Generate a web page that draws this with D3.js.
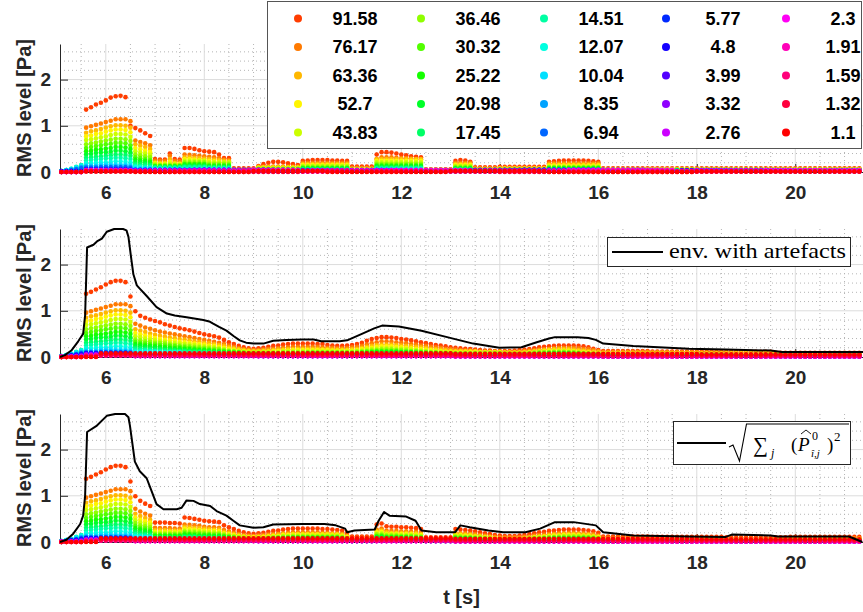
<!DOCTYPE html>
<html><head><meta charset="utf-8">
<script src="https://cdn.jsdelivr.net/npm/d3@7/dist/d3.min.js"></script>
<style>body{margin:0;background:#fff;}svg{display:block;}</style>
</head><body>
<svg id="chart" width="863" height="612"></svg>
<script>
// ---------------- DATA ----------------
// frequency bands (legend order, column-major)
const freqs = [91.58,76.17,63.36,52.7,43.83,36.46,30.32,25.22,20.98,17.45,14.51,12.07,10.04,8.35,6.94,5.77,4.8,3.99,3.32,2.76,2.3,1.91,1.59,1.32,1.1];
// sample grid of the dots: t = T0 + i*DT, i = 0..NT-1
const T0 = 5.1, DT = 0.1, NT = 163;
const xTicks = [6,8,10,12,14,16,18,20];
const yTicks = [0,1,2];
const YMAX = 2.77;
// Series values in hundredths of Pa, as runs: number = one sample, [n, v] = n samples of v

// Panel 1 (dots only)
const panel1 = [
 [[5,1],135,140,146,150,155,161,164,165,162,100,95,90,84,78,28,27,27,40,28,27,52,52,50,47,45,44,43,38,30,30,[5,8],13,17,20,22,22,21,19,17,15,24,25,26,26,26,26,25,25,24,24,[5,12],38,43,43,42,40,38,36,34,33,32,[6,6],24,26,25,22,[5,10],[10,11],22,23,24,25,25,25,25,25,24,23,22,[53,8]],
 [[5,1],96,99,102,105,108,111,114,114,114,110,68,65,62,58,25,24,24,35,24,23,38,37,36,35,34,33,32,30,27,26,[5,6],[9,12],[10,20],[5,9],28,32,32,32,31,30,30,29,28,27,[6,5],[4,20],[5,8],[10,9],[11,19],[53,7]],
 [[5,1],85,88,90,93,96,99,101,101,100,96,60,57,54,50,21,20,20,28,20,19,32,32,31,30,29,28,27,26,24,23,[5,5],[9,10],[10,17],[5,7],[10,28],[6,5],[4,17],[5,7],[10,8],[11,16],[53,6]],
 [[5,1],77,79,82,84,87,90,92,92,91,86,52,49,46,43,19,18,18,22,18,17,28,28,27,26,25,24,23,22,21,20,[5,5],[9,9],[10,15],[5,6],[10,24],[6,4],[4,15],[5,6],[10,7],[11,14],[53,6]],
 [0,1,1,2,4,69,71,73,75,77,80,82,82,81,76,45,42,40,37,17,16,16,18,16,15,[5,24],[5,21],[5,4],[9,8],[10,13],[5,5],[10,21],[6,4],[4,13],[5,5],[10,6],[11,12],[53,5]],
 [1,1,2,3,6,60,62,64,66,68,70,72,72,71,67,38,36,34,32,[6,15],[5,21],[5,18],[5,4],[9,7],[10,11],[5,5],[10,18],[6,4],[4,11],[5,5],[10,5],[11,10],[53,5]],
 [1,2,3,5,8,52,54,56,58,60,61,63,63,62,58,32,30,28,26,[6,13],[5,18],[5,15],[5,3],[9,6],[10,9],[5,4],[10,15],[6,3],[4,9],[5,4],[10,5],[11,9],[53,4]],
 [1,2,4,6,10,45,46,48,49,51,52,54,54,53,50,27,25,24,22,[6,12],[5,16],[5,13],[5,3],[9,5],[10,8],[5,4],[10,13],[6,3],[4,8],[5,4],[10,4],[11,8],[53,4]],
 [1,3,5,8,12,38,39,41,42,43,44,46,46,45,42,22,21,20,18,[6,11],[5,14],[5,11],[5,3],[9,5],[10,7],[5,3],[10,11],[6,3],[4,7],[5,3],[10,4],[11,7],[53,4]],
 [2,4,6,10,14,31,32,33,34,35,36,38,38,37,35,18,17,16,15,[6,10],[5,12],[5,10],[5,3],[9,4],[10,6],[5,3],[10,9],[6,3],[4,6],[5,3],[10,3],[11,6],[53,3]],
 [2,4,7,11,15,25,26,27,28,29,30,31,31,30,28,14,13,12,11,[6,9],[5,10],[5,8],[5,2],[9,4],[10,5],[5,3],[10,8],[6,2],[4,5],[5,3],[10,3],[11,5],[53,3]],
 [2,4,7,10,14,19,19,20,21,21,22,23,23,22,21,11,10,9,9,[6,7],[10,7],[5,2],[9,3],[10,4],[5,2],[10,6],[6,2],[4,4],[5,2],[10,3],[11,4],[53,3]],
 [2,4,6,9,12,[3,14],[6,16],15,[4,8],[6,6],[10,5],[5,2],[9,3],[10,3],[5,2],[10,5],[6,2],[4,3],[5,2],[10,2],[11,3],[53,2]],
 [1,3,5,7,10,[3,11],[6,12],11,[4,6],[6,5],[10,4],[5,2],[9,2],[10,3],[5,2],[10,4],[6,2],[4,3],[5,2],[10,2],[11,3],[53,2]],
 [1,2,4,6,8,[3,9],[6,10],9,[4,5],[6,4],[10,3],[5,2],[9,2],[10,2],[5,2],[10,3],[6,2],[4,2],[5,2],[10,2],[11,2],[53,2]],
 [[5,1],[9,5],4,[4,3],[12,5],[15,2],[20,4],[18,2],[25,5],[20,2],[15,4],[19,2]],
 [[5,2],[9,6],5,[4,4],[10,2],[14,5],[16,2],[20,4],[15,2],[25,5],[20,2],[24,4]],
 [[5,0],[9,4],4,[4,3],[16,4],[12,1],[22,3],[14,1],[18,4],[25,2],[20,4],[17,1]],
 [[5,0],[9,5],4,[4,2],[8,2],[20,5],[15,2],[22,4],[20,1],[18,4],[25,2],[16,3]],
 [[5,0],[9,3],3,[4,2],[14,3],[18,1],[20,4],[16,2],[24,3],[18,1],[20,4],[14,2]],
 [[5,0],[9,4],3,[4,3],[20,2],[10,5],[18,1],[16,4],[20,2],[22,5],[18,1],[20,4]],
 [[5,0],[9,2],2,[4,2],[25,3],[15,1],[20,3],[20,1],[25,3],[20,1],[19,2]],
 [[5,0],[9,3],2,[4,2],[18,1],[22,3],[20,1],[18,3],[22,1],[24,2],[20,1]],
 [[5,0],[9,1],1,[4,1],[30,0],[40,1],[40,0],[34,1]],
 [[5,0],[9,1],1,[4,0],[20,0],[15,2],[25,0],[20,2],[30,0],[34,1]]
];

// Panel 2 (dots + envelope with artefacts)
const panel2 = [
 [0,1,1,2,3,137,141,146,151,157,162,165,165,162,131,99,89,85,81,78,75,71,68,65,62,60,58,55,52,49,47,45,42,37,32,28,24,21,19,18,19,20,22,24,25,27,28,29,29,29,29,29,28,28,26,25,24,24,25,26,28,31,35,39,41,43,43,42,41,39,38,36,34,32,30,28,26,25,23,21,20,19,18,17,16,15,14,14,13,13,13,13,14,15,16,17,19,21,22,23,24,25,25,25,25,24,23,21,18,15,[10,13],[10,12],[5,12],[10,11],[18,9]],
 [0,0,1,1,2,96,99,102,105,108,111,114,114,114,110,72,68,64,61,58,55,53,51,49,47,45,43,41,39,37,35,33,31,28,25,22,19,17,16,15,15,16,17,18,19,20,21,22,22,22,22,22,22,21,20,20,19,19,20,21,22,24,27,30,32,34,34,33,32,31,30,28,27,25,24,22,21,20,18,17,16,15,14,14,13,12,12,11,11,11,11,11,11,12,13,14,15,16,17,18,19,20,20,20,20,19,18,17,15,13,[10,11],[10,10],[15,10],[18,8]],
 [0,0,1,1,2,85,88,90,93,96,99,101,101,100,96,60,57,54,51,48,46,44,42,41,39,38,36,34,33,31,30,28,26,24,21,19,17,15,14,13,13,14,14,15,16,16,17,17,18,18,18,18,18,17,17,16,16,16,16,17,18,20,22,24,26,27,27,27,26,25,24,23,22,21,20,18,17,16,15,14,[5,13],[5,11],[4,10],11,12,13,14,15,16,17,17,17,17,16,15,14,13,12,11,[20,9],[33,8]],
 [0,0,1,2,3,77,79,82,84,87,90,92,92,91,86,52,49,46,44,41,39,37,36,35,33,32,31,29,28,27,25,24,22,20,18,16,14,13,12,11,11,12,12,13,13,14,14,15,15,15,[5,15],[5,14],15,17,19,20,22,23,23,23,22,21,20,19,18,17,16,15,14,13,12,12,[5,11],[5,10],[5,9],10,11,12,13,14,14,14,14,14,13,12,11,10,9,8,[20,8],[33,7]],
 [0,1,1,2,4,69,71,73,75,77,80,82,82,81,76,45,43,40,38,36,34,33,31,30,29,28,27,26,24,23,22,21,19,17,15,14,12,11,10,10,[5,10],[5,12],[10,12],13,14,16,17,18,19,19,19,18,18,17,16,15,14,13,12,12,11,10,10,[10,9],[5,8],9,10,11,12,12,12,12,12,12,11,10,9,8,8,7,[20,7],[33,6]],
 [1,1,2,3,6,60,62,64,66,68,70,72,72,71,67,38,36,34,33,31,30,29,27,26,25,24,23,22,21,20,19,18,17,15,13,12,11,10,9,9,[5,9],[5,10],[10,10],11,12,13,14,15,16,16,16,15,15,14,13,13,12,11,10,10,9,9,8,[10,8],[5,7],8,9,10,10,10,11,11,11,10,10,9,8,7,7,7,[20,6],[33,5]],
 [1,2,3,5,8,52,54,56,58,60,61,63,63,62,58,33,31,29,28,27,26,25,24,23,22,21,20,19,18,17,16,15,14,13,12,11,10,9,8,8,[10,8],[10,9],9,10,11,12,13,13,13,13,13,12,12,11,11,10,10,9,9,8,8,7,[10,7],[5,6],7,7,8,8,9,9,9,9,9,8,8,7,7,6,6,[20,5],[33,5]],
 [1,2,4,6,10,45,46,48,49,51,52,54,54,53,50,28,27,25,24,23,22,21,20,19,19,18,17,16,15,15,14,13,12,11,10,9,9,8,7,7,[10,7],[10,8],8,9,9,10,11,11,11,11,11,10,10,10,9,9,8,8,8,7,7,7,[10,6],[5,6],6,6,7,7,8,8,8,8,8,7,7,6,6,6,6,[20,5],[33,4]],
 [1,3,5,8,12,38,39,41,42,43,44,46,46,45,42,24,23,22,21,20,19,18,17,16,16,15,14,14,13,12,12,11,10,9,9,8,7,7,6,6,[10,6],[10,7],7,7,8,8,9,9,9,9,9,9,8,8,8,7,7,7,6,6,6,6,[10,5],[5,5],5,6,6,6,7,7,7,7,7,6,6,6,5,5,5,[20,4],[33,4]],
 [2,4,6,10,14,31,32,33,34,35,36,38,38,37,35,20,19,18,17,16,16,15,14,14,13,13,12,11,11,10,10,9,9,8,7,7,6,6,5,5,[10,5],[10,6],6,6,7,7,7,8,8,8,8,7,7,7,7,6,6,6,6,5,5,5,[10,5],[20,5],[20,4],[33,3]],
 [2,4,7,11,15,25,26,27,28,29,30,31,31,30,28,16,15,15,14,13,13,12,12,11,11,10,10,9,9,9,8,8,7,7,6,6,5,5,5,4,[10,4],[10,5],[5,5],[10,6],[5,5],[10,4],[20,4],[20,3],[33,3]],
 [2,4,7,10,14,19,19,20,21,21,22,23,23,22,21,[5,12],[5,10],[5,8],[5,7],[5,5],[10,4],[10,4],[20,5],[10,4],[20,4],[20,3],[33,3]],
 [2,4,6,9,12,[3,14],[6,16],15,[5,9],[5,8],[5,6],[5,5],[5,4],[20,4],[20,4],[10,3],[20,3],[20,3],[33,2]],
 [1,3,5,7,10,[3,11],[6,12],11,[10,7],[10,5],[5,4],[20,3],[20,4],[10,3],[20,3],[20,2],[33,2]],
 [1,2,4,6,8,[3,9],[6,10],9,[10,6],[15,4],[20,3],[20,3],[10,3],[20,3],[20,2],[33,2]],
 [1,2,3,5,7,[9,9],8,[10,5],[15,4],[20,3],[20,3],[10,2],[20,2],[20,2],[33,2]],
 [1,2,3,4,5,[9,8],7,[10,5],[15,3],[20,3],[20,4],[10,2],[20,2],[20,2],[33,1]],
 [0,1,2,3,4,[9,7],6,[25,3],[20,2],[20,3],[10,2],[20,2],[20,1],[33,1]],
 [0,1,1,2,3,[9,6],5,[25,3],[20,2],[20,2],[10,2],[20,2],[20,1],[33,1]],
 [[5,1],[9,5],4,[25,2],[20,2],[20,2],[10,1],[20,1],[20,1],[33,1]],
 [[5,1],[9,4],3,[25,2],[40,2],[10,1],[20,1],[20,1],[33,1]],
 [[5,0],[9,3],3,[25,2],[40,2],[10,2],[20,2],[20,1],[33,1]],
 [[5,0],[9,3],3,[25,3],[40,3],[10,2],[20,2],[20,2],[33,2]],
 [[5,0],[3,1],[6,5],5,[25,5],[40,5],[10,4],[20,4],[20,4],[33,3]],
 [[5,0],[3,0],[6,8],8,[25,8],[20,8],[20,8],[10,7],[20,7],[20,7],[33,6]]
];

// Panel 3 (dots + reconstructed envelope); lowest bands as read are the same as panel 2
const panel3Upper = [
 [[5,1],137,141,146,151,157,162,165,165,162,131,99,89,83,78,42,42,42,41,41,40,53,52,50,48,46,45,44,43,36,32,28,24,21,19,18,19,20,22,24,25,27,28,29,29,29,29,29,29,28,28,27,26,25,20,[5,12],38,40,34,33,33,32,32,31,30,28,[6,10],28,27,26,25,23,21,19,17,15,14,13,13,13,14,15,17,19,21,22,24,25,26,27,27,27,27,26,25,23,20,[10,12],[15,11],[13,10],[15,11]],
 [[5,1],96,99,102,105,108,111,114,114,114,110,72,66,61,57,31,30,30,30,29,29,38,37,36,35,33,32,32,31,26,23,20,17,15,14,13,14,15,16,17,18,19,20,21,21,21,21,21,21,20,20,19,19,18,14,[5,9],27,29,25,24,24,23,23,22,22,20,[6,7],20,19,19,18,17,15,14,12,11,10,10,10,10,10,11,12,14,15,16,17,18,19,19,20,20,19,19,18,17,14,[10,9],[15,8],[13,7],[15,8]],
 [[5,1],85,88,90,93,96,99,101,101,100,96,61,56,52,48,26,26,26,25,25,25,33,32,31,30,29,28,27,27,22,20,17,15,13,12,11,12,12,14,15,16,17,17,18,18,18,18,18,17,17,17,16,16,16,12,[5,7],24,25,21,20,20,20,20,19,19,17,[6,6],17,17,16,16,14,13,12,11,9,[5,8],9,9,11,12,13,15,16,16,17,17,17,17,16,16,14,12,[10,7],[15,7],[13,6],[15,7]],
 [0,0,1,2,3,77,79,82,84,87,90,92,92,91,86,53,48,45,42,[6,22],29,28,27,26,25,24,24,23,19,17,15,13,11,10,10,10,11,12,13,13,15,15,16,16,[8,16],14,11,[5,6],21,22,18,18,18,17,17,17,16,15,[6,5],15,15,14,14,12,11,10,9,8,[5,7],8,9,10,11,12,13,14,14,15,15,15,15,14,14,12,11,[25,6],[13,5],[15,6]],
 [0,1,1,2,4,69,71,73,75,77,80,82,82,81,76,47,42,39,37,[6,20],25,24,24,23,22,21,21,20,17,15,13,11,10,9,8,9,9,10,11,12,13,13,14,14,[8,14],12,9,[5,6],18,19,16,16,16,15,15,15,14,13,[6,5],13,13,12,12,11,10,9,8,7,[5,6],7,8,9,10,10,11,12,12,13,13,13,13,12,12,11,9,[25,5],[13,5],[15,5]],
 [1,1,2,3,6,60,62,64,66,68,70,72,72,71,67,41,36,34,32,[6,17],22,21,21,20,19,18,18,18,15,13,11,10,9,8,7,8,8,9,10,10,11,11,12,12,[8,12],10,8,[5,5],16,16,14,14,14,13,13,13,12,11,[6,4],11,11,10,10,9,9,8,7,6,[5,5],6,7,8,8,9,10,10,11,11,11,11,11,11,10,9,8,[25,5],[13,4],[15,5]],
 [1,2,3,5,8,52,54,56,58,60,61,63,63,62,58,35,31,29,27,[6,15],19,18,18,17,16,16,15,15,13,11,10,8,7,7,6,7,7,8,8,9,9,10,10,10,[8,10],9,7,[5,4],13,14,12,12,12,11,11,11,10,10,[6,4],10,9,9,9,8,7,7,6,5,[5,5],5,6,7,7,8,8,9,9,9,9,9,9,9,9,8,7,[25,4],[13,4],[15,4]],
 [1,2,4,6,10,45,46,48,49,51,52,54,54,53,50,30,27,25,23,[6,13],16,16,15,14,14,14,13,13,11,10,8,7,6,6,5,6,6,7,7,8,8,8,9,9,[8,9],8,6,[5,4],11,12,10,10,10,10,10,9,9,8,[6,3],8,8,8,8,7,6,6,5,5,[5,4],5,5,6,6,7,7,8,8,8,8,8,8,8,7,7,6,[25,4],[13,3],[15,4]],
 [1,3,5,8,12,38,39,41,42,43,44,46,46,45,42,25,22,21,20,[6,11],13,13,13,12,12,11,11,11,9,8,7,6,5,5,5,5,5,6,6,6,7,7,7,7,[8,7],6,5,[5,3],10,10,9,8,8,8,8,8,8,7,[6,3],7,7,7,6,6,5,5,5,4,[5,4],4,4,5,5,6,6,6,7,7,7,7,7,7,6,6,5,[25,3],[13,3],[15,3]],
 [2,4,6,10,14,31,32,33,34,35,36,38,38,37,35,21,19,17,16,[6,9],11,11,11,10,10,9,9,9,8,7,6,5,5,4,4,4,4,5,5,5,6,6,6,6,[8,6],5,4,[5,3],8,8,7,7,7,7,7,7,6,6,[6,3],[4,6],5,4,4,4,3,[5,3],3,4,4,4,5,5,5,5,6,6,6,6,5,5,5,4,[25,3],[13,2],[15,3]],
 [2,4,7,11,15,25,26,27,28,29,30,31,31,30,28,17,15,14,13,[6,7],9,9,9,8,8,8,7,7,6,5,5,4,4,4,3,[9,4],[8,5],4,3,[5,2],[3,6],[7,5],[6,2],[4,5],[5,4],[10,3],[11,4],[53,3]],
 [2,4,7,10,14,19,19,20,21,21,22,23,23,22,21,13,12,11,10,[6,5],[5,7],[5,5],[5,3],[9,3],[10,4],[5,2],[10,5],[6,2],[4,4],[5,3],[10,3],[11,3],[53,2]],
 [2,4,6,9,12,[3,14],[6,16],15,[4,10],[6,4],[5,5],[5,4],[5,3],[9,3],[10,3],[5,2],[10,4],[6,2],[4,3],[5,3],[10,2],[11,3],[53,2]]
];
const panel3 = panel3Upper.concat(panel2.slice(13));

// Envelopes: times [s] and levels [Pa]
const env2T = [5.07,5.17,5.3,5.44,5.54,5.58,5.62,5.75,5.82,5.92,6.02,6.17,6.35,6.42,6.46,6.52,6.56,6.63,6.69,6.83,7.03,7.24,7.4,7.64,7.98,8.1,8.18,8.3,8.45,8.6,8.72,8.85,9.0,9.2,9.4,9.67,9.99,10.22,10.37,10.75,10.9,11.2,11.45,11.61,11.95,12.41,12.93,13.46,13.99,14.44,14.75,15.0,15.12,15.58,15.8,15.95,16.1,16.71,17.84,18.59,19.5,19.73,21.38];
const env2V = [0,0.04,0.14,0.34,0.5,0.9,2.37,2.43,2.5,2.56,2.71,2.77,2.77,2.74,2.6,2.1,1.79,1.55,1.48,1.32,1.08,0.94,0.9,0.86,0.8,0.77,0.72,0.65,0.57,0.45,0.36,0.31,0.29,0.29,0.35,0.37,0.38,0.38,0.34,0.34,0.36,0.5,0.62,0.68,0.66,0.57,0.43,0.29,0.2,0.21,0.32,0.4,0.43,0.43,0.41,0.37,0.29,0.24,0.18,0.16,0.14,0.11,0.11];
const env3T = [5.07,5.2,5.34,5.48,5.54,5.58,5.62,5.82,6.02,6.19,6.39,6.46,6.49,6.59,6.69,6.83,6.93,7.03,7.17,7.44,7.54,7.64,7.78,7.91,8.12,8.25,8.45,8.59,8.72,9.0,9.2,9.4,9.99,10.44,10.67,10.86,10.9,11.05,11.46,11.54,11.65,11.76,12.1,12.29,12.41,12.71,13.09,13.2,13.39,13.77,14.07,14.52,14.82,15.12,15.5,15.95,16.1,16.71,17.84,18.59,18.71,19.5,19.65,21.09,21.36];
const env3V = [0,0.05,0.18,0.39,0.57,1.0,2.38,2.52,2.73,2.77,2.77,2.7,2.52,1.74,1.53,1.38,1.1,0.82,0.71,0.71,0.74,0.9,0.89,0.82,0.78,0.67,0.57,0.46,0.36,0.31,0.32,0.38,0.39,0.39,0.36,0.29,0.21,0.25,0.27,0.46,0.65,0.57,0.55,0.46,0.25,0.21,0.21,0.36,0.32,0.25,0.21,0.21,0.29,0.43,0.43,0.36,0.21,0.14,0.12,0.11,0.16,0.14,0.12,0.12,0.0];

// ---------------- DRAWING ----------------
function expand(runs){
  const out=[];
  runs.forEach(r=>{ if(Array.isArray(r)){ for(let k=0;k<r[0];k++) out.push(r[1]/100);} else out.push(r/100); });
  return out;
}
const svg = d3.select('#chart');
const FONT = '"Liberation Sans", Arial, Helvetica, sans-serif';
const SERIF = '"Liberation Serif", "DejaVu Serif", serif';
const TXT = '#262626';
const x = d3.scaleLinear().domain([5.07, 21.375]).range([60, 863]);
const tops = [44, 229, 414], PH = 128;
const color = k => d3.hsl(((k+1)%25)/25*360, 1, 0.5).toString();
const minorX = d3.range(5.5, 21.4, 0.5).filter(v => !xTicks.includes(v));
const minorY = d3.range(0.2, 2.7, 0.2).map(v=>+v.toFixed(1)).filter(v => !yTicks.includes(v));
const panels = [panel1, panel2, panel3];
const envs = [null, [env2T, env2V], [env3T, env3V]];
let problems = [];

svg.append('defs').append('clipPath').attr('id','plotclip')
  .append('rect').attr('x',60).attr('y',0).attr('width',803).attr('height',612);

panels.forEach((pdata, p) => {
  const top = tops[p], bot = top + PH;
  const y = d3.scaleLinear().domain([0, YMAX]).range([bot, top]);
  const g = svg.append('g');
  // minor grid
  g.append('g').selectAll('line').data(minorX).join('line')
    .attr('x1', d=>x(d)).attr('x2', d=>x(d)).attr('y1', top).attr('y2', bot)
    .attr('stroke', '#b5b5b5').attr('stroke-width', 1).attr('stroke-dasharray', '1,3');
  g.append('g').selectAll('line').data(minorY).join('line')
    .attr('x1', 60).attr('x2', 863).attr('y1', d=>y(d)).attr('y2', d=>y(d))
    .attr('stroke', '#b5b5b5').attr('stroke-width', 1).attr('stroke-dasharray', '1,3');
  // major grid
  g.append('g').selectAll('line').data(xTicks).join('line')
    .attr('x1', d=>x(d)).attr('x2', d=>x(d)).attr('y1', top).attr('y2', bot)
    .attr('stroke', '#dcdcdc').attr('stroke-width', 1);
  g.append('g').selectAll('line').data(yTicks.filter(v=>v>0)).join('line')
    .attr('x1', 60).attr('x2', 863).attr('y1', d=>y(d)).attr('y2', d=>y(d))
    .attr('stroke', '#dcdcdc').attr('stroke-width', 1);
  // axes
  const ax = g.append('g').attr('transform', `translate(0,${bot})`)
    .call(d3.axisBottom(x).tickValues(xTicks).tickFormat(d3.format('d')).tickSize(-8).tickSizeOuter(0).tickPadding(14));
  const ay = g.append('g').attr('transform', 'translate(60,0)')
    .call(d3.axisLeft(y).tickValues(yTicks).tickFormat(d3.format('d')).tickSize(-8).tickSizeOuter(0).tickPadding(9));
  [ax, ay].forEach(a => {
    a.select('.domain').attr('stroke', TXT).attr('stroke-width', 1);
    a.selectAll('.tick line').attr('stroke', TXT);
    a.selectAll('text').attr('fill', TXT).style('font', `bold 19px ${FONT}`);
  });
  // y label
  g.append('text').attr('transform', `translate(24,${(top+bot)/2}) rotate(-90)`)
    .attr('text-anchor','middle').attr('dy','0.35em').attr('fill', TXT)
    .style('font', `bold 20px ${FONT}`).text('RMS level [Pa]');
  // dots
  const dots = g.append('g');
  pdata.forEach((runs, k) => {
    const vals = expand(runs);
    if (vals.length !== NT) problems.push(`panel ${p+1} series ${freqs[k]}: ${vals.length}`);
    dots.append('g').attr('fill', color(k)).selectAll('circle')
      .data(vals.map((v,i)=>[T0 + i*DT, v])).join('circle')
      .attr('cx', d=>x(d[0])).attr('cy', d=>y(d[1])).attr('r', 2.3);
  });
  // envelope
  if (envs[p]) {
    const [et, ev] = envs[p];
    g.append('path').datum(et.map((t,i)=>[t, ev[i]]))
      .attr('clip-path','url(#plotclip)')
      .attr('d', d3.line().x(d=>x(d[0])).y(d=>y(d[1])))
      .attr('fill','none').attr('stroke','#000').attr('stroke-width',2).attr('stroke-linejoin','round');
  }
});

// x label
svg.append('text').attr('x', 461.5).attr('y', 597).attr('text-anchor','middle').attr('dy','0.35em')
  .attr('fill', TXT).style('font', `bold 20px ${FONT}`).text('t [s]');

// Legend panel 1
const leg = svg.append('g');
leg.append('rect').attr('x',267.5).attr('y',1.5).attr('width',594).attr('height',147)
  .attr('fill','#fff').attr('stroke','#555').attr('stroke-width',1);
const colX = [298, 421, 544, 666, 786], rowY = [18.5, 47, 75.5, 104, 132.5];
freqs.forEach((f, k) => {
  const c = Math.floor(k/5), r = k%5;
  leg.append('circle').attr('cx', colX[c]).attr('cy', rowY[r]).attr('r', 4).attr('fill', color(k));
  leg.append('text').attr('x', colX[c]+57).attr('y', rowY[r]).attr('dy','0.35em').attr('text-anchor','middle')
    .attr('fill','#000').style('font', `bold 18px ${FONT}`).text(String(f));
});

// Legend panel 2
const l2 = svg.append('g');
l2.append('rect').attr('x',607.5).attr('y',237.5).attr('width',243).attr('height',29)
  .attr('fill','#fff').attr('stroke','#262626').attr('stroke-width',1);
l2.append('line').attr('x1',612).attr('x2',663).attr('y1',252).attr('y2',252).attr('stroke','#000').attr('stroke-width',2);
l2.append('text').attr('x',669).attr('y',258).attr('textLength',177).attr('lengthAdjust','spacingAndGlyphs')
  .attr('fill','#000').style('font', `21px ${SERIF}`).text('env.  with artefacts');

// Legend panel 3
const l3 = svg.append('g');
l3.append('rect').attr('x',673.5).attr('y',421.5).attr('width',177).attr('height',43)
  .attr('fill','#fff').attr('stroke','#262626').attr('stroke-width',1);
l3.append('line').attr('x1',677).attr('x2',726).attr('y1',443).attr('y2',443).attr('stroke','#000').attr('stroke-width',2);
l3.append('path').attr('d','M729,447 L733,445 L739.5,461 L746.5,424 L849,424')
  .attr('fill','none').attr('stroke','#000').attr('stroke-width',1.1);
const st = (xx, yy, size, txt, italic) => l3.append('text').attr('x',xx).attr('y',yy).attr('fill','#000')
  .style('font', `${italic?'italic ':''}${size}px ${SERIF}`).text(txt);
st(753, 452, 21, '\u2211', false);
st(771, 457, 12, 'j', true);
st(791, 451, 19, '(', false);
st(798, 451, 19, 'P', true);
l3.append('path').attr('d','M801,434 L806,430 L811,434').attr('fill','none').attr('stroke','#000').attr('stroke-width',0.9);
st(812, 440, 12, '0', false);
st(811, 457, 11, '\u00ee,j', true);
st(827, 451, 19, ')', false);
st(834, 441, 13, '2', false);

if (problems.length) svg.append('text').attr('x',70).attr('y',600).attr('fill','red').style('font','10px sans-serif').text(problems.join('; '));
</script>
</body></html>
